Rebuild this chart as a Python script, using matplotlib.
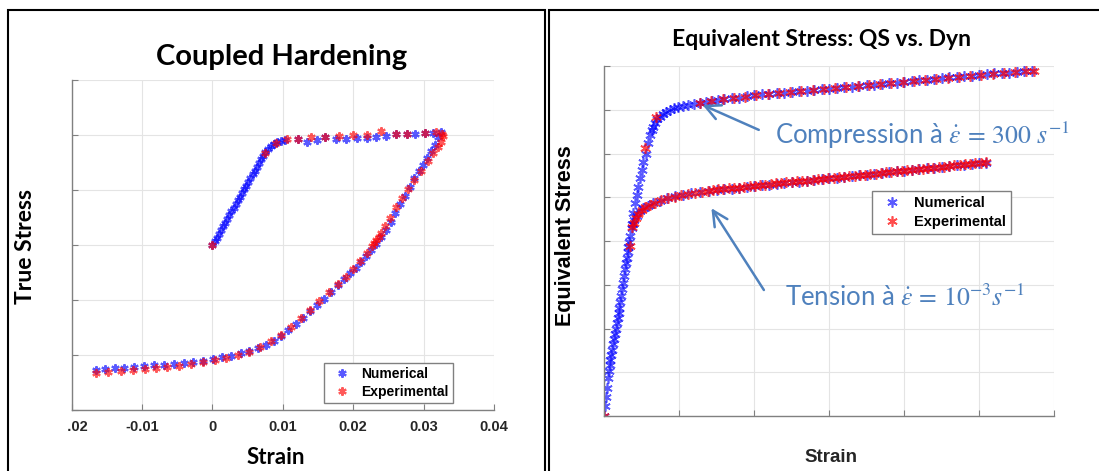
import matplotlib
matplotlib.use("Agg")
import matplotlib.pyplot as plt
from matplotlib.patches import Rectangle

plt.rcParams['font.family'] = ['Lato', 'DejaVu Sans']
plt.rcParams['mathtext.fontset'] = 'stix'

# ---- left panel: coupled hardening loop (strain, stress) ----
num_load_strain = [0.0000, 0.0003, 0.0006, 0.0009, 0.0012, 0.0015, 0.0018, 0.0021, 0.0024, 0.0027,
                   0.0030, 0.0033, 0.0036, 0.0039, 0.0042, 0.0045, 0.0048, 0.0051, 0.0054, 0.0057,
                   0.0060, 0.0063, 0.0066, 0.0069, 0.0072, 0.0075, 0.0079, 0.0083, 0.0087, 0.0092,
                   0.0097, 0.0103]
num_load_stress = [0, 14, 27, 41, 54, 68, 81, 95, 108, 122,
                   135, 149, 162, 176, 189, 203, 216, 230, 243, 257,
                   270, 284, 297, 311, 324, 338, 350, 360, 368, 374,
                   379, 383]
num_hold_strain = [0.0121, 0.0134, 0.0148, 0.0160, 0.0176, 0.0190, 0.0205, 0.0219, 0.0233, 0.0247,
                   0.0261, 0.0276, 0.0288, 0.0302, 0.0314, 0.0324]
num_hold_stress = [386, 374, 382, 393, 384, 384, 388, 390, 391, 396,
                   402, 404, 405, 407, 409, 411]
num_unload_strain = [0.0321, 0.0316, 0.0311, 0.0305, 0.0299, 0.0293, 0.0287, 0.0281, 0.0274, 0.0267,
                     0.0260, 0.0253, 0.0246, 0.0239, 0.0232, 0.0225, 0.0218, 0.0211, 0.0204, 0.0196,
                     0.0187, 0.0178, 0.0168, 0.0158, 0.0148, 0.0138, 0.0128, 0.0118, 0.0108, 0.0098,
                     0.0087, 0.0076, 0.0064, 0.0052, 0.0040, 0.0027, 0.0014, 0.0001, -0.0013, -0.0027,
                     -0.0041, -0.0055, -0.0069, -0.0083, -0.0097, -0.0111, -0.0125, -0.0139, -0.0153, -0.0166]
num_unload_stress = [392, 365, 342, 318, 292, 268, 242, 212, 180, 148,
                     115, 84, 56, 30, 5, -18, -40, -60, -82, -103,
                     -124, -145, -170, -195, -218, -240, -264, -287, -309, -330,
                     -348, -362, -374, -385, -394, -402, -408, -414, -420, -424,
                     -428, -432, -435, -438, -441, -444, -446, -448, -451, -453]

exp_loop_strain = [0.0000, 0.0075, 0.0090, 0.0106, 0.0121, 0.0140, 0.0160, 0.0180, 0.0200, 0.0219,
                   0.0240, 0.0261, 0.0276, 0.0302, 0.0318, 0.0326,
                   0.0327, 0.0324, 0.0320, 0.0314, 0.0306, 0.0296, 0.0287, 0.0278, 0.0269, 0.0261,
                   0.0252, 0.0245, 0.0240, 0.0236, 0.0233, 0.0230, 0.0226, 0.0219, 0.0210, 0.0200,
                   0.0190, 0.0178, 0.0165, 0.0152, 0.0139, 0.0126, 0.0112, 0.0097, 0.0083, 0.0068,
                   0.0052, 0.0036, 0.0019, 0.0003, -0.0014, -0.0031, -0.0048, -0.0065, -0.0080, -0.0096,
                   -0.0113, -0.0130, -0.0148, -0.0165]
exp_loop_stress = [0, 336, 372, 384, 386, 393, 393, 396, 399, 401,
                   415, 405, 405, 408, 410, 404,
                   395, 375, 355, 335, 305, 268, 238, 205, 170, 140,
                   100, 68, 45, 30, 18, 8, -5, -28, -58, -88,
                   -115, -142, -172, -205, -236, -266, -297, -327, -350, -370,
                   -388, -400, -410, -418, -426, -434, -440, -444, -446, -452,
                   -454, -458, -462, -465]

loop_xticks = [-0.02, -0.01, 0, 0.01, 0.02, 0.03, 0.04]
loop_xticklabels = ['-0.02', '-0.01', '0', '0.01', '0.02', '0.03', '0.04']

# ---- right panel: equivalent stress, quasi-static vs dynamic ----
elastic_strain = [0.0000, 0.0006, 0.0012, 0.0018, 0.0024, 0.0030, 0.0036, 0.0042, 0.0048, 0.0054,
                  0.0060, 0.0066, 0.0072, 0.0078, 0.0084, 0.0090, 0.0096, 0.0102, 0.0108, 0.0114,
                  0.0120, 0.0126, 0.0132, 0.0138, 0.0144, 0.0150, 0.0156, 0.0162, 0.0168, 0.0174]
elastic_stress = [0, 22, 43, 64, 86, 104, 116, 128, 140, 152,
                  164, 176, 188, 200, 212, 224, 236, 248, 260, 275,
                  290, 305, 320, 335, 350, 362, 374, 386, 398, 412]

comp_num_strain = [0.0183, 0.0194, 0.0205, 0.0217, 0.0227, 0.0239, 0.0250, 0.0261, 0.0279, 0.0294,
                   0.0305, 0.0316, 0.0327, 0.0340, 0.0355, 0.0372, 0.0390, 0.0410, 0.0439, 0.0465,
                   0.0495, 0.0527, 0.0560, 0.0600, 0.0639, 0.0680, 0.0720, 0.0760,
                   0.080, 0.085, 0.090, 0.095, 0.100, 0.105, 0.110, 0.115, 0.120, 0.125,
                   0.130, 0.135, 0.140, 0.145, 0.150, 0.155, 0.160, 0.165, 0.170, 0.175,
                   0.180, 0.185, 0.190, 0.195, 0.200, 0.205, 0.210, 0.215, 0.220, 0.225,
                   0.230, 0.235, 0.240, 0.245, 0.250, 0.255, 0.260, 0.265, 0.270, 0.275,
                   0.280, 0.285]
comp_num_stress = [440, 463, 486, 505, 524, 543, 562, 581, 600, 625,
                   642, 653, 661, 670, 678, 684, 690, 694, 699, 703,
                   706, 709, 712, 714, 716, 718, 720, 722,
                   724, 726, 728, 731, 733, 735, 736, 738, 739, 741,
                   742, 744, 745, 747, 748, 750, 751, 753, 754, 756,
                   757, 759, 761, 762, 764, 765, 767, 769, 770, 772,
                   774, 775, 777, 778, 780, 781, 783, 784, 785, 787,
                   788, 789]
comp_exp_strain = [0.0000, 0.0172, 0.0272, 0.0345, 0.0639, 0.0715, 0.0790, 0.0865, 0.0940, 0.1015,
                   0.1090, 0.1165, 0.1240, 0.1315, 0.1390, 0.1465, 0.1540, 0.1615, 0.1690, 0.1765,
                   0.1840, 0.1915, 0.1990, 0.2065, 0.2140, 0.2215, 0.2290, 0.2365, 0.2440, 0.2515,
                   0.2590, 0.2665, 0.2740, 0.2815, 0.2865]
comp_exp_stress = [0, 389, 612, 683, 716, 720, 724, 727, 730, 734,
                   736, 738, 741, 743, 745, 747, 749, 752, 754, 756,
                   758, 761, 763, 766, 768, 771, 773, 775, 778, 780,
                   782, 784, 786, 788, 788]

tens_num_strain = [0.0183, 0.0190, 0.0200, 0.0217, 0.0240, 0.0261, 0.0290, 0.0327, 0.0370, 0.0417,
                   0.0470, 0.0527, 0.0580, 0.0639, 0.0700, 0.0750,
                   0.080, 0.085, 0.090, 0.095, 0.100, 0.105, 0.110, 0.115, 0.120, 0.125,
                   0.130, 0.135, 0.140, 0.145, 0.150, 0.155, 0.160, 0.165, 0.170, 0.175,
                   0.180, 0.185, 0.190, 0.195, 0.200, 0.205, 0.210, 0.215, 0.220, 0.225,
                   0.230, 0.235, 0.240, 0.245, 0.250, 0.2545]
tens_num_stress = [429, 440, 449, 458, 468, 475, 481, 486, 492, 498,
                   502, 505, 509, 513, 515, 517,
                   519, 520, 522, 524, 526, 527, 529, 531, 533, 534,
                   536, 538, 540, 541, 543, 545, 547, 548, 550, 552,
                   554, 555, 557, 559, 561, 562, 564, 566, 568, 569,
                   571, 573, 574, 576, 578, 579]
tens_exp_strain = [0.0185, 0.0196, 0.0210, 0.0228, 0.0250, 0.0275, 0.0305, 0.0340, 0.0380, 0.0425,
                   0.0470, 0.0515, 0.0560, 0.0605, 0.0650, 0.0690,
                   0.0725, 0.0760, 0.0795, 0.0830, 0.0865, 0.0900, 0.0935, 0.0970, 0.1005, 0.1040,
                   0.1075, 0.1110, 0.1145, 0.1180, 0.1215, 0.1250, 0.1285, 0.1320, 0.1355, 0.1390,
                   0.1425, 0.1460, 0.1495, 0.1530, 0.1565, 0.1600, 0.1635, 0.1670, 0.1705, 0.1740,
                   0.1775, 0.1810, 0.1845, 0.1880, 0.1915, 0.1950, 0.1985, 0.2020, 0.2055, 0.2090,
                   0.2125, 0.2160, 0.2195, 0.2230, 0.2265, 0.2300, 0.2335, 0.2370, 0.2405, 0.2440,
                   0.2475, 0.2510, 0.2545]
tens_exp_stress = [432, 442, 452, 462, 470, 477, 483, 488, 493, 498,
                   501, 505, 507, 510, 513, 515,
                   516, 518, 519, 521, 521, 522, 524, 526, 526, 527,
                   529, 530, 532, 532, 534, 535, 537, 537, 538, 540,
                   541, 542, 544, 545, 546, 547, 549, 549, 551, 552,
                   553, 554, 556, 557, 558, 559, 561, 562, 563, 564,
                   565, 567, 568, 569, 570, 572, 573, 574, 575, 576,
                   578, 579, 580]

W, H = 1099, 471
BLUE = (0.0, 0.0, 1.0)
RED = (1.0, 0.0, 0.0)
NOTE = '#4F81BD'
AST = (6, 2, 0)   # asterisk marker


def fx(px):
    return px / W


def fy(py):
    return 1 - py / H


def style_axes(ax):
    for s in ['top', 'right']:
        ax.spines[s].set_visible(False)
    for s in ['left', 'bottom']:
        ax.spines[s].set_color('#808080')
        ax.spines[s].set_linewidth(1.0)
    ax.grid(True, color='#e4e4e4', linewidth=0.8)
    ax.set_axisbelow(True)
    ax.tick_params(direction='in', length=4, color='#808080', top=False, right=False)


fig = plt.figure(figsize=(W / 100, H / 100), dpi=100)

# panel frames
fig.add_artist(Rectangle((fx(8), fy(480)), fx(545 - 8), (480 - 10) / H, transform=fig.transFigure,
                         fill=False, ec='black', lw=1.5, zorder=10))
fig.add_artist(Rectangle((fx(549), fy(480)), fx(600), (480 - 10) / H, transform=fig.transFigure,
                         fill=False, ec='black', lw=1.5, zorder=10))

# left: coupled hardening
ax1 = fig.add_axes([fx(71.7), fy(410), fx(422.3), 330 / H])
style_axes(ax1)
ax1.plot(num_load_strain + num_hold_strain + num_unload_strain,
         num_load_stress + num_hold_stress + num_unload_stress,
         ls='none', marker=AST, ms=6, mew=1.5, color=BLUE, alpha=0.65, label='Numerical')
ax1.plot(exp_loop_strain, exp_loop_stress,
         ls='none', marker=AST, ms=6, mew=1.5, color=RED, alpha=0.65, label='Experimental')
ax1.set_xlim(-0.02, 0.04)
ax1.set_ylim(-600, 600)
ax1.set_xticks(loop_xticks)
ax1.set_xticklabels(loop_xticklabels, family='Liberation Sans', weight='bold',
                    size=10.5, color='#262626')
ax1.set_yticks([-600, -400, -200, 0, 200, 400, 600])
ax1.set_yticklabels([])
ax1.tick_params(axis='x', pad=7)
leg1 = ax1.legend(loc='lower right', bbox_to_anchor=(0.903, 0.021),
                  prop={'family': 'Liberation Sans', 'weight': 'bold', 'size': 10},
                  fancybox=False, edgecolor='#808080', framealpha=1, borderpad=0.3,
                  handlelength=2.0, handletextpad=0.4, borderaxespad=0, labelspacing=0.3)
leg1.get_frame().set_linewidth(1.0)

fig.text(fx(282), fy(57), 'Coupled Hardening', ha='center', va='center',
         fontsize=21, weight='bold')
fig.text(fx(26), fy(246), 'True Stress', ha='center', va='center', rotation=90,
         fontsize=16.5, weight='bold')
fig.text(fx(276), fy(457), 'Strain', ha='center', va='center', fontsize=16, weight='bold')

# hide the clipped sign of the first tick label
fig.add_artist(Rectangle((fx(40), fy(442)), fx(27), 28 / H, transform=fig.transFigure,
                         fc='white', ec='none', zorder=5))

# right: equivalent stress
ax2 = fig.add_axes([fx(604.2), fy(416), fx(449.8), 350 / H])
style_axes(ax2)
ax2.plot(elastic_strain + comp_num_strain, elastic_stress + comp_num_stress,
         ls='none', marker=AST, ms=7.5, mew=1.2, color=BLUE, alpha=0.65, label='Numerical')
ax2.plot(tens_num_strain, tens_num_stress,
         ls='none', marker=AST, ms=7.5, mew=1.2, color=BLUE, alpha=0.65)
ax2.plot(comp_exp_strain, comp_exp_stress,
         ls='none', marker=AST, ms=7.5, mew=1.2, color=RED, alpha=0.7, label='Experimental')
ax2.plot(tens_exp_strain, tens_exp_stress,
         ls='none', marker=AST, ms=7.5, mew=1.2, color=RED, alpha=0.7)
ax2.set_xlim(0, 0.3)
ax2.set_ylim(0, 800)
ax2.set_xticks([0, 0.05, 0.10, 0.15, 0.20, 0.25, 0.30])
ax2.set_yticks(range(0, 801, 100))
ax2.set_xticklabels([])
ax2.set_yticklabels([])
leg2 = ax2.legend(loc='lower right', bbox_to_anchor=(0.904, 0.52),
                  prop={'family': 'Liberation Sans', 'weight': 'bold', 'size': 10.5},
                  fancybox=False, edgecolor='#808080', framealpha=1, borderpad=0.35,
                  handlelength=2.0, handletextpad=0.5, borderaxespad=0, labelspacing=0.35)
leg2.get_frame().set_linewidth(1.0)

ax2.text(0.114, 642, r'Compression à $\dot{\varepsilon}\, =\, 300\ s^{-1}$', color=NOTE,
         fontsize=18.5, ha='left', va='center')
ax2.text(0.1205, 270, r'Tension à $\dot{\varepsilon}\, =\, 10^{-3}s^{-1}$', color=NOTE,
         fontsize=18.5, ha='left', va='center')
ax2.annotate('', xy=(0.0656, 711), xytext=(0.1031, 654),
             arrowprops=dict(arrowstyle='->,head_length=0.6,head_width=0.3', color=NOTE,
                             lw=1.8, mutation_scale=18, shrinkA=0, shrinkB=0))
ax2.annotate('', xy=(0.0715, 475), xytext=(0.1065, 288),
             arrowprops=dict(arrowstyle='->,head_length=0.6,head_width=0.3', color=NOTE,
                             lw=1.8, mutation_scale=18, shrinkA=0, shrinkB=0))

fig.text(fx(821), fy(39), 'Equivalent Stress: QS vs. Dyn', ha='center', va='center',
         fontsize=16.5, weight='bold')
fig.text(fx(565), fy(236), 'Equivalent Stress', ha='center', va='center', rotation=90,
         family='Liberation Sans', fontsize=15.5, weight='bold')
fig.text(fx(831), fy(458), 'Strain', ha='center', va='center',
         family='Liberation Sans', fontsize=13.5, weight='bold', color='#262626')

fig.savefig('out.png', dpi=100)
